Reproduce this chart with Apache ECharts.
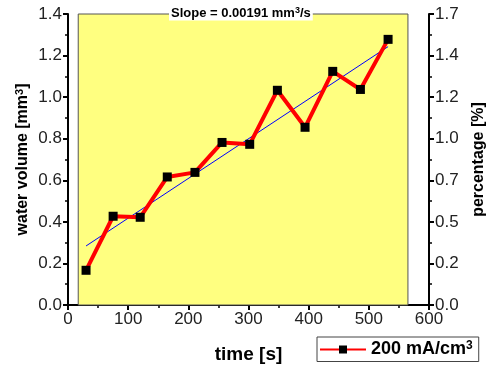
<!DOCTYPE html>
<html><head><meta charset="utf-8">
<script src="https://cdn.jsdelivr.net/npm/echarts@6/dist/echarts.min.js"></script>
<style>html,body{margin:0;padding:0;background:#fff}#c{width:487px;height:370px}</style>
</head><body><div id="c"></div>
<script>
const times = [30, 75, 120, 165, 211, 256, 302, 348, 394, 440, 486, 532];
const volumes = [0.167, 0.427, 0.422, 0.616, 0.638, 0.782, 0.773, 1.033, 0.855, 1.124, 1.037, 1.278];
const fitX = [30, 532];
const fitY = [0.284, 1.243];
const rightTickLabels = ["0.0", "0.2", "0.5", "0.7", "1.0", "1.2", "1.4", "1.7"];
const panelX = [17, 565];
const seriesName = "200 mA/cm3";

const chart = echarts.init(document.getElementById('c'));
const font = 'Liberation Sans, Arial, sans-serif';
function supRich(size, raise) {
  return {sup: {fontSize: size, fontWeight: 'bold', color: '#000', fontFamily: font, verticalAlign: 'bottom', padding: [0, 0, raise, 0]}};
}
const axisCommon = {
  axisLine: {show: true, lineStyle: {color: '#000', width: 2}},
  axisTick: {show: true, inside: false, length: 5, lineStyle: {color: '#000', width: 2}},
  minorTick: {show: true, splitNumber: 2, length: 3, lineStyle: {color: '#000', width: 1.5}},
  splitLine: {show: false},
  axisLabel: {color: '#222', fontSize: 17, fontFamily: font, margin: 6},
  nameTextStyle: {color: '#000', fontSize: 17, fontWeight: 'bold', fontFamily: font}
};
chart.setOption({
  animation: false,
  title: {
    text: 'Slope = 0.00191 mm{sup|3}/s', left: 169, top: 5,
    backgroundColor: '#fff', padding: [1, 2, 1, 2],
    textStyle: {fontSize: 13, fontWeight: 'bold', color: '#000', fontFamily: font, rich: supRich(9, 5)}
  },
  grid: {left: 68, right: 58, top: 14, bottom: 65, containLabel: false, outerBoundsMode: 'none'},
  legend: {
    left: 317, top: 337, width: 156, height: 22,
    padding: [3, 6, 3, 2],
    borderColor: '#444', borderWidth: 1,
    itemWidth: 46, itemHeight: 10, itemGap: 4,
    data: [{name: seriesName}],
    formatter: () => '200 mA/cm{sup|3}',
    textStyle: {fontSize: 18, fontWeight: 'bold', color: '#000', fontFamily: font, rich: supRich(12, 7)}
  },
  xAxis: Object.assign({}, axisCommon, {
    type: 'value', min: 0, max: 600, interval: 100,
    name: 'time [s]', nameLocation: 'middle', nameGap: 40,
    nameTextStyle: Object.assign({}, axisCommon.nameTextStyle, {fontSize: 19})
  }),
  yAxis: [
    Object.assign({}, axisCommon, {
      type: 'value', min: 0, max: 1.4, interval: 0.2,
      name: 'water volume [mm{sup|3}]', nameLocation: 'middle', nameGap: 36,
      nameMoveOverlap: false,
      nameTextStyle: Object.assign({}, axisCommon.nameTextStyle, {fontSize: 16, rich: supRich(11, 7)}),
      axisLabel: Object.assign({}, axisCommon.axisLabel, {formatter: v => v.toFixed(1)})
    }),
    Object.assign({}, axisCommon, {
      type: 'value', min: 0, max: 1.4, interval: 0.2, position: 'right',
      name: 'percentage [%]', nameLocation: 'middle', nameGap: 42,
      nameTextStyle: Object.assign({}, axisCommon.nameTextStyle, {fontSize: 16}),
      axisLabel: Object.assign({}, axisCommon.axisLabel, {
        formatter: v => rightTickLabels[Math.round(v / 0.2)]
      })
    })
  ],
  series: [
    {
      name: 'panel', type: 'line', data: [], silent: true,
      markArea: {
        silent: true,
        itemStyle: {color: '#ffff80', borderColor: '#555', borderWidth: 1},
        data: [[{coord: [panelX[0], 0]}, {coord: [panelX[1], 1.4]}]]
      }
    },
    {
      name: 'fit', type: 'line', data: fitX.map((x, i) => [x, fitY[i]]),
      symbol: 'none', lineStyle: {color: '#0000ff', width: 1}, z: 3
    },
    {
      name: seriesName, type: 'line', data: times.map((t, i) => [t, volumes[i]]),
      symbol: 'rect', symbolSize: 9,
      itemStyle: {color: '#000'},
      lineStyle: {color: '#ff0000', width: 4}, z: 4
    }
  ]
});
</script></body></html>
